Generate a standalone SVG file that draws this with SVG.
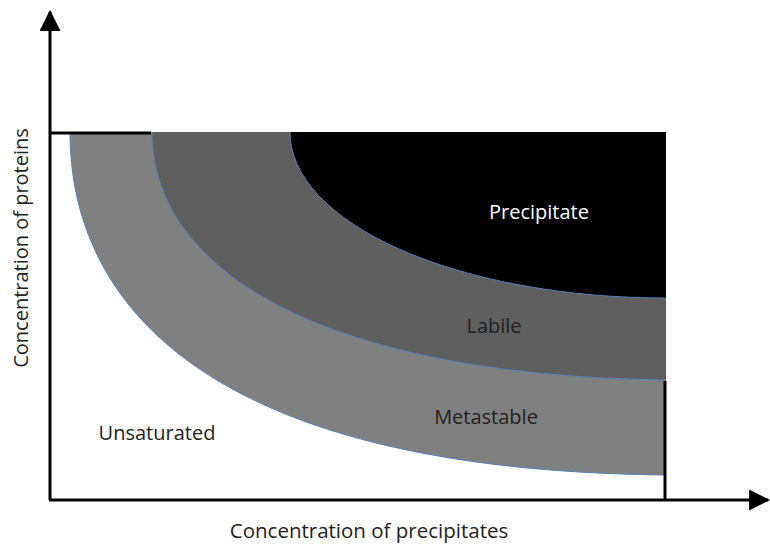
<svg xmlns="http://www.w3.org/2000/svg" width="770" height="544" viewBox="0 0 770 544">
  <style>
    .lbl { font-family: "Open Sans", "Liberation Sans", sans-serif; font-size: 20px; text-anchor: middle; }
    .dark { fill: #222222; }
    .edge { fill: none; stroke: #5b7fb5; stroke-width: 1; }
    .axis { stroke: #000000; stroke-width: 3; fill: none; }
  </style>
  <defs>
    <marker id="arrow" viewBox="0 0 10 10" refX="9" refY="5" markerWidth="7" markerHeight="7" markerUnits="strokeWidth" orient="auto">
      <path d="M0,0 L10,5 L0,10 z" fill="#000000"/>
    </marker>
  </defs>
  <rect width="770" height="544" fill="#ffffff"/>

  <!-- solubility regions, nested bands meeting at the top-right corner -->
  <g id="metastable">
    <path d="M70,132 C70,300 200,470 665,475 L666,475 L666,132 Z" fill="#808080"/>
    <path class="edge" d="M70,132 C70,300 200,470 665,475"/>
  </g>
  <g id="labile">
    <path d="M152,132 C152,270 320,375 665,380 L666,380 L666,132 Z" fill="#5f5f5f"/>
    <path class="edge" d="M152,132 C152,270 320,375 665,380"/>
  </g>
  <g id="precipitate">
    <path d="M290,132 A375,166 0 0 0 665,298 L666,298 L666,132 Z" fill="#000000"/>
    <path class="edge" d="M290,132 A375,166 0 0 0 665,298"/>
  </g>

  <!-- axes and frame -->
  <g id="connectors">
    <line class="axis" x1="50" y1="500" x2="50" y2="12" marker-end="url(#arrow)"/>
    <line class="axis" x1="49" y1="500" x2="768" y2="500" marker-end="url(#arrow)"/>
    <line class="axis" x1="50" y1="133" x2="151" y2="133"/>
    <line class="axis" x1="665" y1="381" x2="665" y2="500"/>
  </g>

  <g id="labels">
    <text class="lbl" x="539" y="219" fill="#ffffff">Precipitate</text>
    <text class="lbl dark" x="494" y="333">Labile</text>
    <text class="lbl dark" x="486" y="424">Metastable</text>
    <text class="lbl dark" x="157" y="440">Unsaturated</text>
    <text class="lbl dark" x="369" y="538" style="font-size:20.5px">Concentration of precipitates</text>
    <text class="lbl dark" transform="translate(28,248) rotate(-90)">Concentration of proteins</text>
  </g>
</svg>
